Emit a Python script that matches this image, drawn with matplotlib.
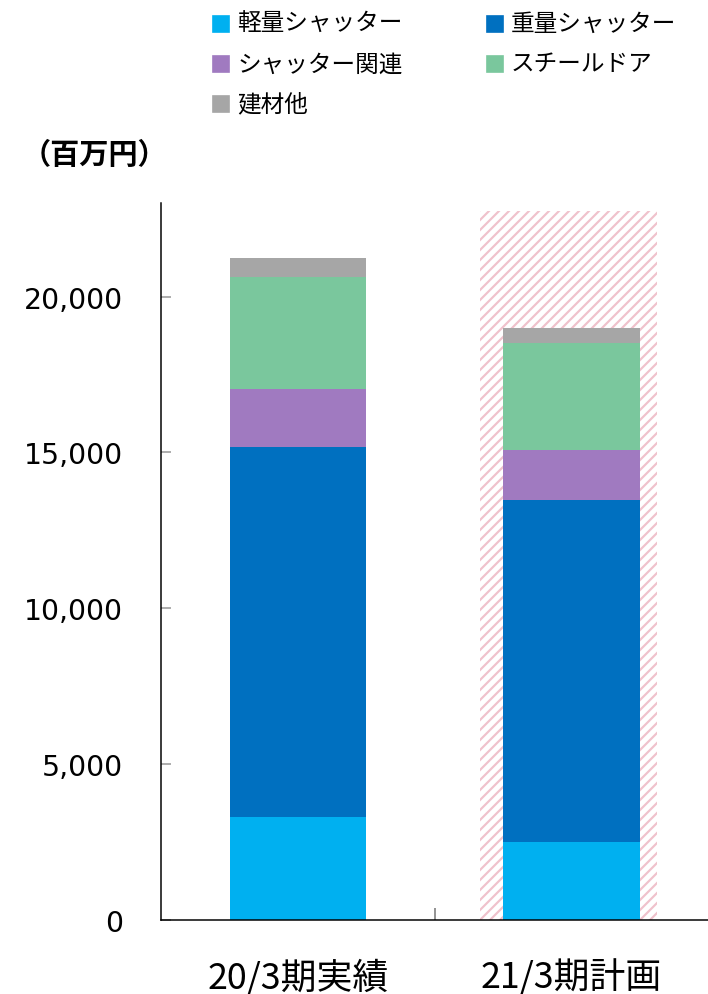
import numpy as np
import matplotlib
matplotlib.use('Agg')
import matplotlib.pyplot as plt
from matplotlib.patches import Rectangle

# values (百万円)
categories = ['20/3期実績', '21/3期計画']
series_names = ['軽量シャッター', '重量シャッター', 'シャッター関連', 'スチールドア', '建材他']
light = [3320, 2520]
heavy = [11850, 10970]
related = [1860, 1600]
steel = [3610, 3420]
other = [600, 480]
plan_box_top = 22750   # hatched box behind the plan bar
colors = ['#00B0F0', '#0070C0', '#A07AC0', '#7AC79D', '#A6A6A6']

plt.rcParams['font.family'] = ['Noto Sans CJK JP', 'DejaVu Sans']
plt.rcParams['hatch.linewidth'] = 1.3

dpi = 120
fig = plt.figure(figsize=(708 / dpi, 995 / dpi), dpi=dpi)
ax = fig.add_axes([161.3 / 708, (995 - 921.3) / 995, 1 - 161.3 / 708, (921.3 - 204) / 995])

x = np.arange(len(categories))

# hatched background for the plan
ax.bar(x[1] - 0.01, plan_box_top, width=0.645, facecolor='white',
       edgecolor='#F0C2CC', hatch='////', linewidth=0, zorder=1)

values = [light, heavy, related, steel, other]
bottom = np.zeros(len(categories))
for vals, col in zip(values, colors):
    ax.bar(x, vals, width=0.5, bottom=bottom, color=col, linewidth=0, zorder=2)
    bottom += np.array(vals)

ax.set_xlim(-0.5, 1.5)
ax.set_ylim(0, 23000)
ax.set_yticks([0, 5000, 10000, 15000, 20000])
ax.set_yticklabels([f'{v:,}' for v in [0, 5000, 10000, 15000, 20000]],
                   family='DejaVu Sans', fontsize=17)
ax.tick_params(axis='y', direction='in', length=6, width=1, color='#A0A0A0', pad=23)

ax.set_xticks(x)
ax.set_xticklabels(categories, fontsize=21.5)
ax.tick_params(axis='x', which='major', length=0, pad=23)
ax.set_xticks([0.5], minor=True)
ax.tick_params(axis='x', which='minor', direction='in', length=7.2, width=1, color='#808080')

for s in ['top', 'right']:
    ax.spines[s].set_visible(False)
for s in ['left', 'bottom']:
    ax.spines[s].set_linewidth(0.9)
    ax.spines[s].set_zorder(3)

# legend, laid out row by row in two columns
W, H = 708, 995
leg_pos = [(213, 24.7), (487, 24.7), (213, 65), (487, 65), (213, 105)]
for (px, py), name, col in zip(leg_pos, series_names, colors):
    fig.patches.append(Rectangle((px / W, 1 - (py + 8) / H), 16 / W, 16 / H,
                                 transform=fig.transFigure, color=col))
    fig.text((px + 24) / W, 1 - py / H, name, fontsize=14.2, ha='left', va='center')

fig.text(22 / W, 1 - 155 / H, '（百万円）', fontsize=17.5, fontweight='bold',
         ha='left', va='center')

fig.savefig('out.png', dpi=dpi)
